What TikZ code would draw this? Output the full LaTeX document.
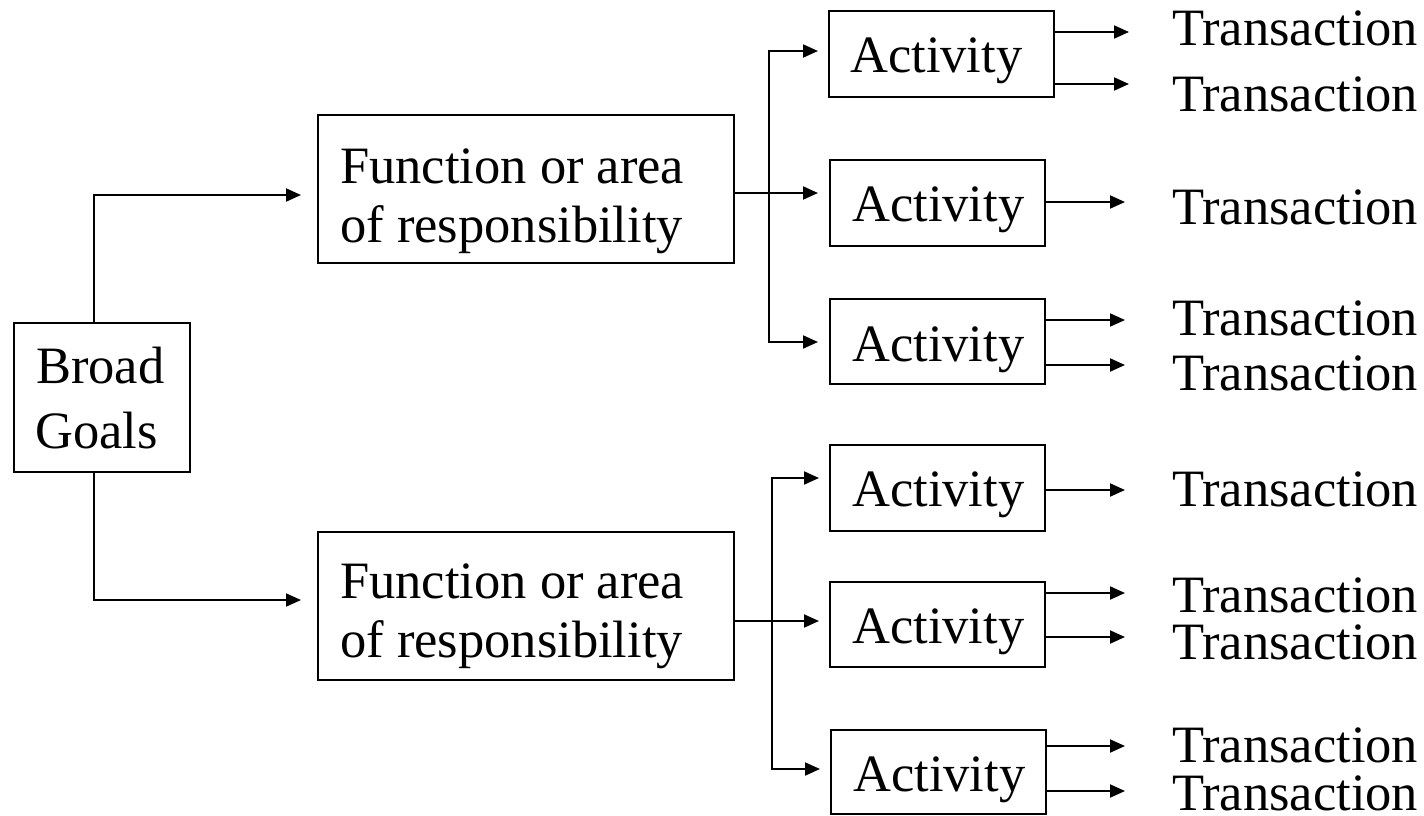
\documentclass[tikz,border=0pt]{standalone}
\usepackage{fontspec}
\setmainfont{Liberation Serif}
\usetikzlibrary{arrows.meta}
\begin{document}
\begin{tikzpicture}[x=1pt,y=-1pt,
  every node/.style={font=\fontsize{52.5}{60}\selectfont},
  box/.style={draw,line width=2pt,inner sep=0pt},
  txt/.style={anchor=base west,inner sep=0pt},
  arr/.style={line width=2pt,-{Triangle[length=15pt,width=13pt]}},
  ln/.style={line width=2pt}]
\useasboundingbox (0,0) rectangle (1424,815);
% boxes
\node[box,minimum width=176pt,minimum height=149pt] (bg) at (102,397.5) {};
\node[box,minimum width=416pt,minimum height=148pt] (f1) at (526,189) {};
\node[box,minimum width=416pt,minimum height=148pt] (f2) at (526,606) {};
\node[box,minimum width=225pt,minimum height=86pt] (a1) at (941.5,54) {};
\node[box,minimum width=215pt,minimum height=86pt] (a2) at (937.5,203) {};
\node[box,minimum width=215pt,minimum height=85pt] (a3) at (937.5,341.5) {};
\node[box,minimum width=215pt,minimum height=86pt] (a4) at (937.5,488) {};
\node[box,minimum width=215pt,minimum height=85pt] (a5) at (937.5,624.5) {};
\node[box,minimum width=215pt,minimum height=84pt] (a6) at (938.5,772) {};
% texts
\node[txt] (bgt1) at (36,383) {Broad};
\node[txt] (bgt2) at (35,448) {Goals};
\node[txt] (f1t1) at (340,183) {Function or area};
\node[txt] (f1t2) at (340,242) {of responsibility};
\node[txt] (f2t1) at (340,598) {Function or area};
\node[txt] (f2t2) at (340,657) {of responsibility};
\node[txt] (a1t) at (850,72) {Activity};
\node[txt] (a2t) at (852,221) {Activity};
\node[txt] (a3t) at (852,361) {Activity};
\node[txt] (a4t) at (852,506) {Activity};
\node[txt] (a5t) at (852,643) {Activity};
\node[txt] (a6t) at (853,791) {Activity};
\node[txt] (tr1) at (1172,45) {Transaction};
\node[txt] (tr2) at (1172,111) {Transaction};
\node[txt] (tr3) at (1172,224) {Transaction};
\node[txt] (tr4) at (1172,335) {Transaction};
\node[txt] (tr5) at (1172,390) {Transaction};
\node[txt] (tr6) at (1172,506) {Transaction};
\node[txt] (tr7) at (1172,612) {Transaction};
\node[txt] (tr8) at (1172,659) {Transaction};
\node[txt] (tr9) at (1172,762) {Transaction};
\node[txt] (tr10) at (1172,810) {Transaction};
% goals to functions
\draw[arr,shorten >=16pt] ([xshift=-8pt]bg.north) |- ([yshift=-6pt]f1.west);
\draw[arr,shorten >=16pt] ([xshift=-8pt]bg.south) |- ([yshift=6pt]f2.west);
% function 1 to activities
\coordinate (j1) at (769,193);
\draw[arr,shorten >=11pt] (f1.east |- j1) -- (a2.west |- j1);
\draw[arr,shorten >=10pt] (j1) |- (a1.west |- 0,51);
\draw[arr,shorten >=11pt] (j1) |- (a3.west |- 0,342);
% function 2 to activities
\coordinate (j2) at (772,621);
\draw[arr,shorten >=10pt] (f2.east |- j2) -- (a5.west |- j2);
\draw[arr,shorten >=10pt] (j2) |- (a4.west |- 0,478);
\draw[arr,shorten >=10pt] (j2) |- (a6.west |- 0,769);
% activities to transactions
\draw[arr,shorten >=43pt] (a1.east |- 0,32) -- (tr1.west |- 0,32);
\draw[arr,shorten >=43pt] (a1.east |- 0,84) -- (tr2.west |- 0,84);
\draw[arr,shorten >=47pt] (a2.east |- 0,202) -- (tr3.west |- 0,202);
\draw[arr,shorten >=47pt] (a3.east |- 0,320) -- (tr4.west |- 0,320);
\draw[arr,shorten >=47pt] (a3.east |- 0,365) -- (tr5.west |- 0,365);
\draw[arr,shorten >=47pt] (a4.east |- 0,490) -- (tr6.west |- 0,490);
\draw[arr,shorten >=47pt] (a5.east |- 0,593) -- (tr7.west |- 0,593);
\draw[arr,shorten >=47pt] (a5.east |- 0,637) -- (tr8.west |- 0,637);
\draw[arr,shorten >=47pt] (a6.east |- 0,746) -- (tr9.west |- 0,746);
\draw[arr,shorten >=47pt] (a6.east |- 0,791) -- (tr10.west |- 0,791);
\end{tikzpicture}
\end{document}
